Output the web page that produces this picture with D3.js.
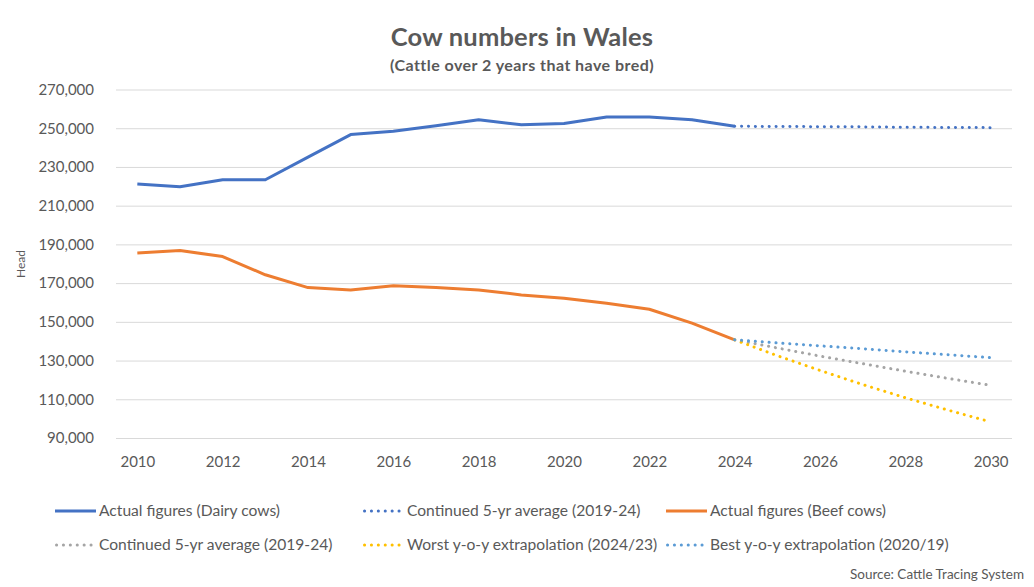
<!DOCTYPE html>
<html>
<head>
<meta charset="utf-8">
<script src="https://cdn.jsdelivr.net/npm/d3@7"></script>
<style>
  body { margin: 0; background: #fff; }
  text { font-family: Lato, "Open Sans", sans-serif; fill: #595959; }
</style>
</head>
<body>
<div id="vis"></div>
<script>
// actual figures
const years = [2010, 2011, 2012, 2013, 2014, 2015, 2016, 2017, 2018, 2019, 2020, 2021, 2022, 2023, 2024]
const dairy = [221200, 219800, 223400, 223400, 235100, 246700, 248400, 251300, 254400, 251800, 252400, 255800, 255800, 254400, 251000]
const beef = [185500, 186800, 183700, 174300, 167700, 166500, 168600, 167700, 166500, 163900, 162200, 159600, 156500, 149300, 140700]

// projections
const projYears = [2024, 2025, 2026, 2027, 2028, 2029, 2030]
const dairyAvg = [251000, 250900, 250800, 250700, 250500, 250400, 250300]
const beefAvg = [140700, 136500, 132300, 128400, 124500, 120800, 117200]
const beefWorst = [140700, 132500, 124900, 117600, 110800, 104400, 98300]
const beefBest = [140700, 139100, 137600, 136100, 134500, 133000, 131500]

const yTicks = [90000, 110000, 130000, 150000, 170000, 190000, 210000, 230000, 250000, 270000]
const xTicks = [2010, 2012, 2014, 2016, 2018, 2020, 2022, 2024, 2026, 2028, 2030]

const series = [
    { name: 'Actual figures (Dairy cows)', x: years, y: dairy, color: '#4472C4', dotted: false },
    { name: 'Continued 5-yr average (2019-24)', x: projYears, y: dairyAvg, color: '#4472C4', dotted: true },
    { name: 'Actual figures (Beef cows)', x: years, y: beef, color: '#ED7D31', dotted: false },
    { name: 'Continued 5-yr average (2019-24)', x: projYears, y: beefAvg, color: '#A5A5A5', dotted: true },
    { name: 'Worst y-o-y extrapolation (2024/23)', x: projYears, y: beefWorst, color: '#FFC000', dotted: true },
    { name: 'Best y-o-y extrapolation (2020/19)', x: projYears, y: beefBest, color: '#5B9BD5', dotted: true }
]

const W = 1034, H = 587
const plot = { left: 116, right: 1012, top: 89.5, bottom: 438 }

const svg = d3.select('#vis')
    .append('svg')
    .attr('width', W)
    .attr('height', H)

const xScale = d3.scaleLinear()
    .domain([2009.5, 2030.5])
    .range([plot.left, plot.right])

const yScale = d3.scaleLinear()
    .domain([90000, 270000])
    .range([plot.bottom, plot.top])

// title
svg.append('text')
    .attr('x', 522)
    .attr('y', 46)
    .attr('text-anchor', 'middle')
    .style('font-size', '25.5px')
    .style('font-weight', 'bold')
    .style('letter-spacing', '0.2px')
    .text('Cow numbers in Wales')

svg.append('text')
    .attr('x', 522)
    .attr('y', 71)
    .attr('text-anchor', 'middle')
    .style('font-size', '16px')
    .style('font-weight', 'bold')
    .style('letter-spacing', '0.45px')
    .text('(Cattle over 2 years that have bred)')

// grid
const yGrid = d3.axisLeft(yScale)
    .tickValues(yTicks)
    .tickSize(-(plot.right - plot.left))
    .tickFormat(d3.format(','))
    .tickPadding(22)

svg.append('g')
    .attr('class', 'grid')
    .attr('transform', `translate(${plot.left},0)`)
    .call(yGrid)
    .call(g => g.select('.domain').remove())
    .call(g => g.selectAll('line').style('stroke', '#D9D9D9').style('stroke-width', 1))
    .call(g => g.selectAll('text').style('font-size', '15px').style('fill', '#595959').style('font-family', 'Lato, sans-serif'))

const xAxis = d3.axisBottom(xScale)
    .tickValues(xTicks)
    .tickSize(0)
    .tickFormat(d3.format('d'))
    .tickPadding(18)

svg.append('g')
    .attr('transform', `translate(0,${plot.bottom})`)
    .call(xAxis)
    .call(g => g.select('.domain').remove())
    .call(g => g.selectAll('text').style('font-size', '15px').style('fill', '#595959').style('font-family', 'Lato, sans-serif'))

svg.append('text')
    .attr('transform', 'rotate(-90)')
    .attr('x', -264)
    .attr('y', 25)
    .attr('text-anchor', 'middle')
    .style('font-size', '12px')
    .text('Head')

// lines
const line = d3.line()
    .x(d => xScale(d[0]))
    .y(d => yScale(d[1]))

series.forEach(s => {
    const pts = s.x.map((yr, i) => [yr, s.y[i]])
    const path = svg.append('path')
        .datum(pts)
        .attr('d', line)
        .attr('fill', 'none')
        .attr('stroke', s.color)
        .attr('stroke-width', 3)
        .attr('stroke-linejoin', 'round')
    if (s.dotted) {
        path.attr('stroke-dasharray', '0.1 6.8')
            .attr('stroke-linecap', 'round')
    } else {
        path.attr('stroke-linecap', 'butt')
    }
})

// legend
const legendPos = [
    { x: 55, y: 511 }, { x: 363, y: 511 }, { x: 666, y: 511 },
    { x: 55, y: 545 }, { x: 363, y: 545 }, { x: 666, y: 545 }
]

series.forEach((s, i) => {
    const p = legendPos[i]
    svg.append('line')
        .attr('x1', p.x + (s.dotted ? 1.5 : 0))
        .attr('x2', p.x + 41)
        .attr('y1', p.y)
        .attr('y2', p.y)
        .attr('stroke', s.color)
        .attr('stroke-width', 3)
        .attr('stroke-dasharray', s.dotted ? '0.1 6.8' : null)
        .attr('stroke-linecap', s.dotted ? 'round' : 'butt')
    svg.append('text')
        .attr('x', p.x + 44)
        .attr('y', p.y + 5)
        .style('font-size', '15.6px')
        .text(s.name)
})

svg.append('text')
    .attr('x', 1024)
    .attr('y', 579)
    .attr('text-anchor', 'end')
    .style('font-size', '13.5px')
    .text('Source: Cattle Tracing System')
</script>
</body>
</html>
